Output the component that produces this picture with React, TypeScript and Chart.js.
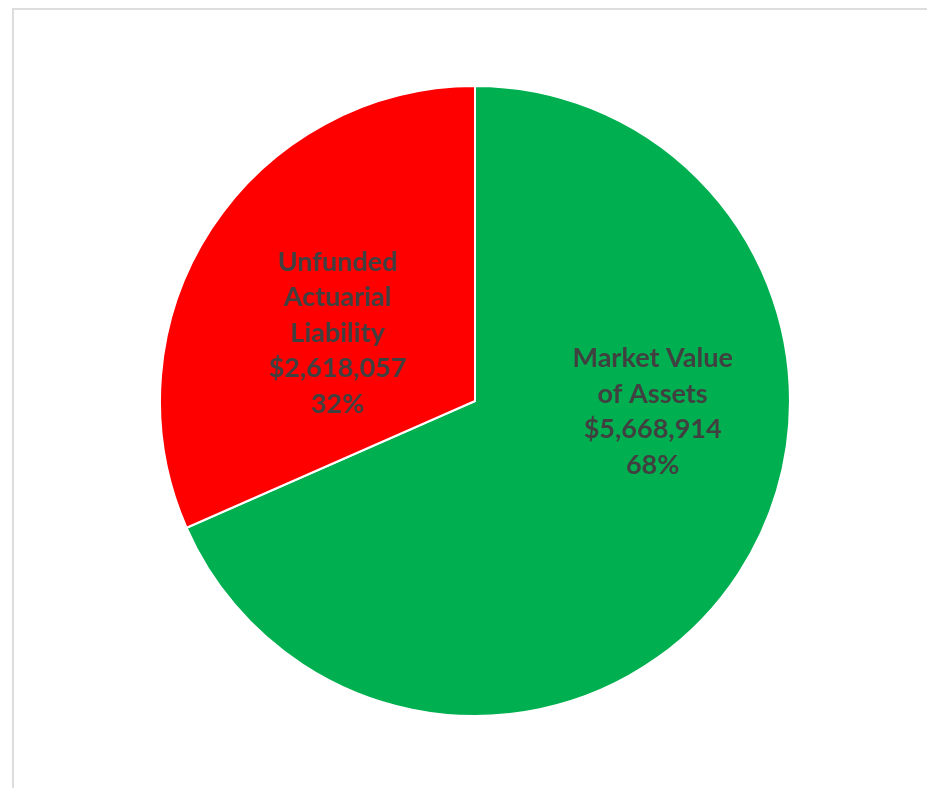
import React, { useEffect, useRef } from "react";
import { Chart, registerables } from "chart.js";

Chart.register(...registerables);

const categories = ["Market Value of Assets", "Unfunded Actuarial Liability"];
const values = [5668914, 2618057];
const labelLines = [
  ["Market Value", "of Assets"],
  ["Unfunded", "Actuarial", "Liability"],
];
const colors = ["#00B050", "#FF0000"];
// label anchor as fraction of radius from pie centre (x, y)
const labelOffsets = [
  [0.564, 0.035],
  [-0.436, -0.215],
];

const labelPlugin = {
  id: "sliceLabels",
  afterDatasetsDraw(chart: any) {
    const ctx = chart.ctx;
    const meta = chart.getDatasetMeta(0);
    const data = chart.data.datasets[0].data as number[];
    const total = data.reduce((a, b) => a + b, 0);
    ctx.save();
    ctx.font = "bold 27px Lato";
    ctx.fillStyle = "#404040";
    ctx.textAlign = "center";
    ctx.textBaseline = "middle";
    const lh = 35.5;
    meta.data.forEach((arc: any, i: number) => {
      const { x, y, outerRadius } = arc.getProps(["x", "y", "outerRadius"], true);
      const lines = [
        ...labelLines[i],
        "$" + data[i].toLocaleString("en-US"),
        Math.round((data[i] / total) * 100) + "%",
      ];
      const cx = x + outerRadius * labelOffsets[i][0];
      const cy = y + outerRadius * labelOffsets[i][1];
      const top = cy - ((lines.length - 1) * lh) / 2;
      lines.forEach((t, k) => ctx.fillText(t, cx, top + k * lh));
    });
    ctx.restore();
  },
};

export default function App() {
  const ref = useRef<HTMLCanvasElement>(null);
  useEffect(() => {
    if (!ref.current) return;
    const chart = new Chart(ref.current, {
      type: "pie",
      data: {
        labels: categories,
        datasets: [
          {
            data: values,
            backgroundColor: colors,
            borderColor: "#ffffff",
            borderWidth: 2,
          },
        ],
      },
      options: {
        animation: false,
        responsive: false,
        maintainAspectRatio: false,
        layout: { padding: 0 },
        plugins: {
          legend: { display: false },
          tooltip: { enabled: false },
        },
      },
      plugins: [labelPlugin],
    });
    return () => chart.destroy();
  }, []);
  return (
    <div
      style={{
        position: "fixed",
        left: 12,
        top: 8,
        width: 915,
        height: 780,
        borderTop: "2px solid #dddddd",
        borderLeft: "2px solid #dddddd",
        background: "#fff",
        boxSizing: "border-box",
      }}
    >
      <canvas
        ref={ref}
        width={632}
        height={632}
        style={{ position: "absolute", left: 145, top: 75, width: 632, height: 632 }}
      />
    </div>
  );
}
